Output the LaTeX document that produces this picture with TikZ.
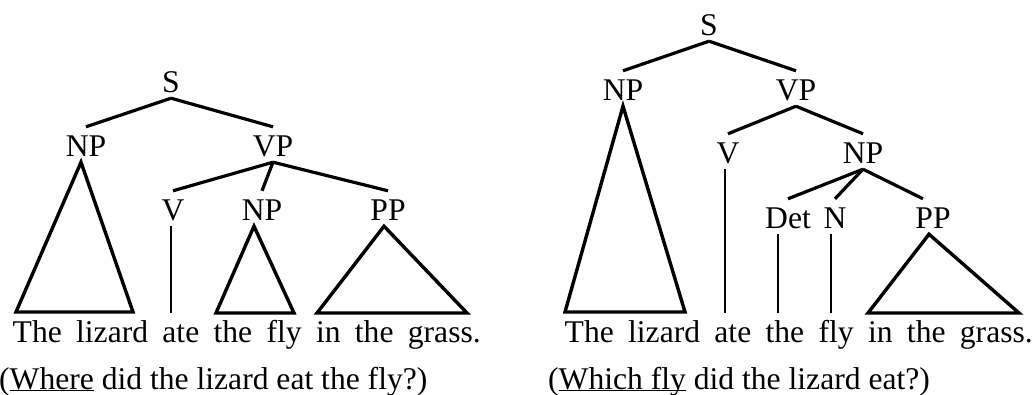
\documentclass[tikz,border=0pt]{standalone}
\usepackage{fontspec}
\setmainfont{Liberation Serif}
\usepackage{tikz}
\newcommand{\treefont}{\fontsize{31.6}{38}\selectfont}
\newcommand{\ulword}[1]{\underline{\smash{#1}}}

\begin{document}
\begin{tikzpicture}[x=1pt,y=-1pt,
  lab/.style={font=\treefont, inner sep=0pt, text height=29pt, text depth=6pt, anchor=base},
  words/.style={font=\treefont, inner sep=0pt, text height=29pt, anchor=base west},
  branch/.style={line width=3.2pt},
  stem/.style={line width=2.4pt},
  roof/.style={line width=3.4pt}]
\useasboundingbox (0,0) rectangle (1032,394);
% left tree: PP attached to VP
\node[lab] (s1) at (171,92) {S};
\node[lab] (np1) at (86,156) {NP};
\node[lab] (vp1) at (273,156) {VP};
\node[lab] (v1) at (173,220) {V};
\node[lab] (np2) at (262,220) {NP};
\node[lab] (pp1) at (388,220) {PP};
\node[words] (sent1) at (12.5,342) {\makebox[468pt][s]{The lizard ate the fly in the grass.}};
\node[words] (cap1) at (-1,389) {(\ulword{Where} did the lizard eat the fly?)};
\draw[branch] (s1.south) -- (np1.north);
\draw[branch] (s1.south) -- (vp1.north);
\draw[branch] (vp1.south) -- (v1.north);
\draw[branch] (vp1.south) -- (np2.north);
\draw[branch] (vp1.south) -- (pp1.north);
\draw[stem] ([xshift=-2pt]v1.south) -- ([xshift=-2pt]v1.south |- sent1.north);
\coordinate (a1) at (16,312);  \coordinate (b1) at (133,312);
\coordinate (a2) at (216,313); \coordinate (b2) at (294,313);
\coordinate (a3) at (317,313); \coordinate (b3) at (467,313);
\draw[roof] ([xshift=-5pt]np1.south) -- (a1) -- (b1) -- cycle;
\draw[roof] ([xshift=-8pt]np2.south) -- (a2) -- (b2) -- cycle;
\draw[roof] ([xshift=-4pt]pp1.south) -- (a3) -- (b3) -- cycle;
% right tree: PP attached to NP
\node[lab] (s2) at (709,35) {S};
\node[lab] (np3) at (623,100) {NP};
\node[lab] (vp2) at (796,100) {VP};
\node[lab] (v2) at (728,163) {V};
\node[lab] (np4) at (863,163) {NP};
\node[lab] (det) at (788,228) {Det};
\node[lab] (n1) at (835,228) {N};
\node[lab] (pp2) at (933,228) {PP};
\node[words] (sent2) at (564.5,342) {\makebox[468pt][s]{The lizard ate the fly in the grass.}};
\node[words] (cap2) at (548,389) {(\ulword{Which fly} did the lizard eat?)};
\draw[branch] (s2.south) -- (np3.north);
\draw[branch] (s2.south) -- (vp2.north);
\draw[branch] (vp2.south) -- (v2.north);
\draw[branch] (vp2.south) -- (np4.north);
\draw[branch] (np4.south) -- (det.north);
\draw[branch] (np4.south) -- (n1.north);
\draw[branch] (np4.south) -- ([xshift=-10pt]pp2.north);
\draw[stem] ([xshift=-3pt]v2.south) -- ([xshift=-3pt]v2.south |- sent2.north);
\draw[stem] ([xshift=-10pt]det.south) -- ([xshift=-10pt]det.south |- sent2.north);
\draw[stem] ([xshift=-4pt]n1.south) -- ([xshift=-4pt]n1.south |- sent2.north);
\coordinate (a4) at (565,312); \coordinate (b4) at (685,312);
\coordinate (a5) at (868,313); \coordinate (b5) at (1019,313);
\draw[roof] (np3.south) -- (a4) -- (b4) -- cycle;
\draw[roof] ([xshift=-4pt]pp2.south) -- (a5) -- (b5) -- cycle;
\end{tikzpicture}
\end{document}
